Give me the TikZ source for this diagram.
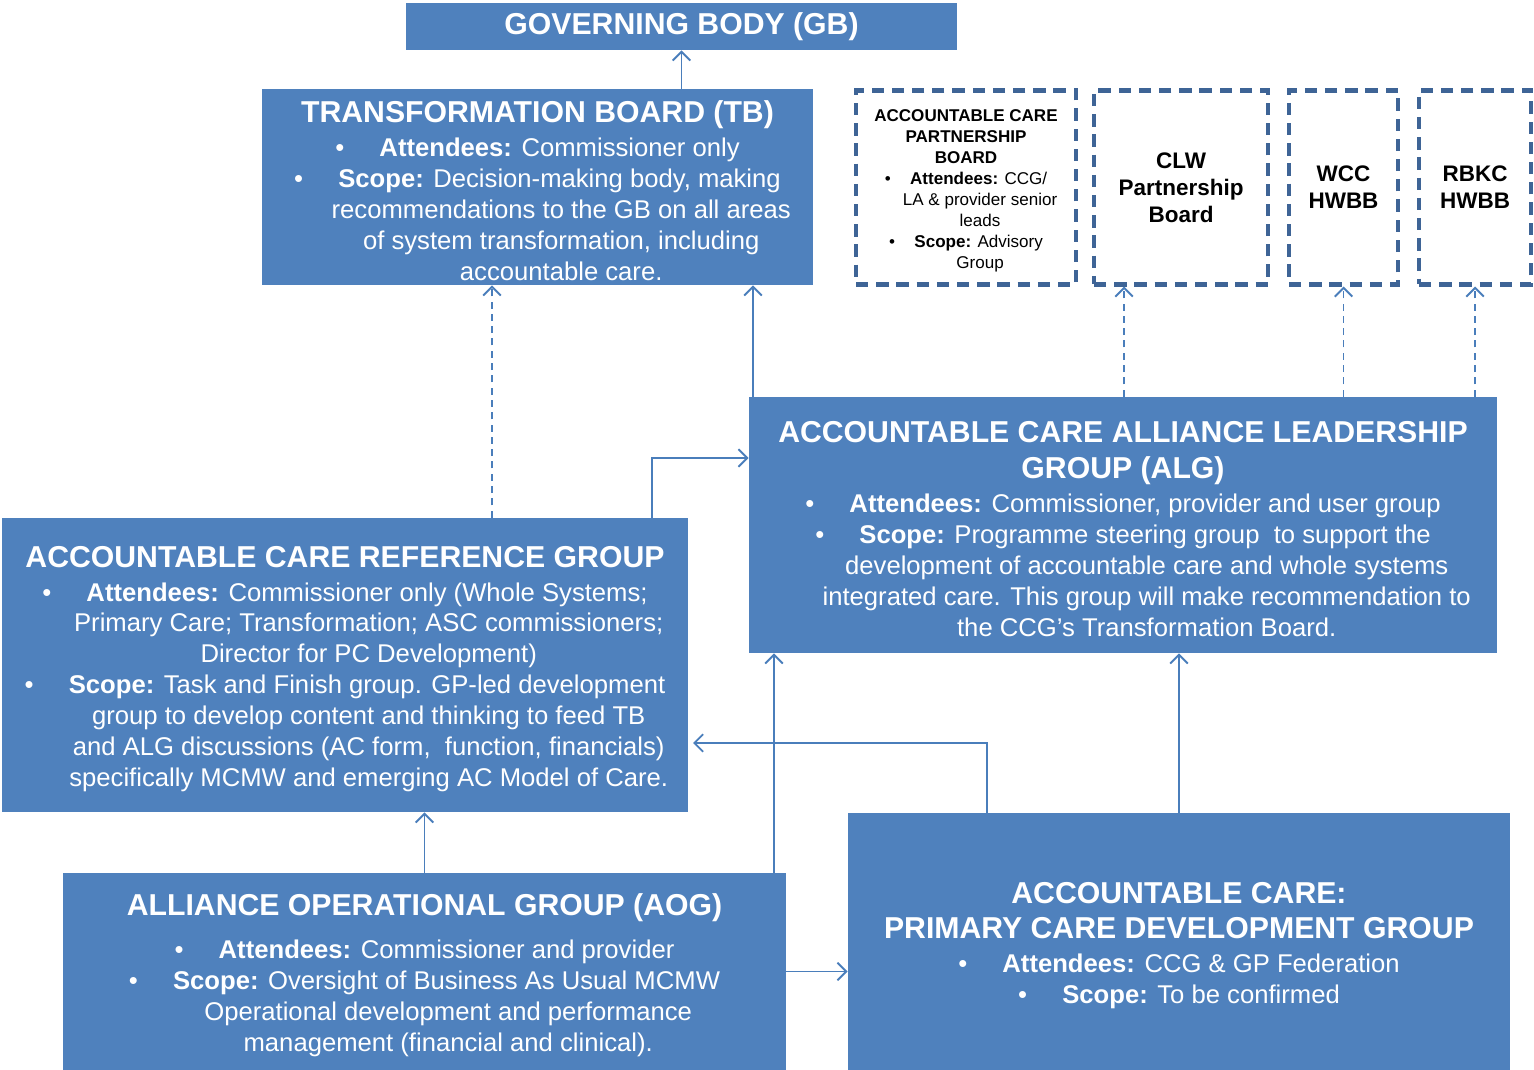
\documentclass[tikz,border=0pt]{standalone}
\usepackage{fontspec}
\setmainfont{Liberation Sans}
\usetikzlibrary{arrows.meta}
\definecolor{boxblue}{HTML}{4F81BD}
\definecolor{linkblue}{HTML}{4A7EBB}
\definecolor{dashblue}{HTML}{3E6496}
\newcommand{\ttl}[1]{{\fontsize{17.2}{20.4}\selectfont\bfseries\rule{0pt}{16.5pt}#1}}
\newcommand{\bpt}{\textbullet\hspace{20pt}}
\newcommand{\cind}{\hspace*{27pt}}
\newcommand{\sbpt}{\textbullet\hspace{11pt}}
\newcommand{\scind}{\hspace*{16pt}}
\begin{document}
\begin{tikzpicture}[x=0.02cm,y=-0.02cm,
    sz/.style 2 args={minimum width=#1*0.02cm,minimum height=#2*0.02cm},
    box/.style={fill=boxblue,text=white,align=center,inner sep=0pt,
      font=\fontsize{14.6}{17.6}\selectfont},
    dbox/.style={draw=dashblue,line width=2.3pt,dash pattern=on 7pt off 4.5pt,
      align=center,inner sep=0pt,font=\fontsize{12.8}{15.3}\selectfont\bfseries},
    arr/.style={draw=linkblue,line width=1.1pt,-{Straight Barb[length=5pt,width=10pt]}},
    darr/.style={arr,dash pattern=on 4pt off 3pt}]
\useasboundingbox (0,0) rectangle (1534,1070);
\node[box,sz={551}{47}](gb)at(681.5,26.5){{\fontsize{17.2}{20.4}\selectfont\bfseries GOVERNING BODY (GB)}};
\node[box,sz={551}{196}](tb)at(537.5,187){\ttl{TRANSFORMATION BOARD (TB)}\\[1.7pt]
  \bpt\textbf{Attendees:} Commissioner only\\
  \bpt\textbf{Scope:} Decision-making body, making\\
  \cind recommendations to the GB on all areas\\
  \cind of system transformation, including\\
  \cind accountable care.};
\node[dbox,sz={220}{194},font=\fontsize{9.7}{11.9}\selectfont](acpb)at(966,187.5){\rule{0pt}{10.5pt}\textbf{ACCOUNTABLE CARE}\\
  \textbf{PARTNERSHIP}\\
  \textbf{BOARD}\\
  \sbpt\textbf{Attendees:} CCG/\\
  \scind LA \& provider senior\\
  \scind leads\\
  \sbpt\textbf{Scope:} Advisory\\
  \scind Group};
\node[dbox,sz={174}{194}](clw)at(1181,187.5){CLW\\Partnership\\Board};
\node[dbox,sz={109}{194}](wcc)at(1343.5,187.5){WCC\\HWBB};
\node[dbox,sz={112}{194}](rbkc)at(1475,187.5){RBKC\\HWBB};
\node[box,sz={748}{256}](alg)at(1123,525){\ttl{ACCOUNTABLE CARE ALLIANCE LEADERSHIP}\\[2.8pt]
  \ttl{GROUP (ALG)}\\[1.7pt]
  \bpt\textbf{Attendees:} Commissioner, provider and user group\\
  \bpt\textbf{Scope:} Programme steering group\ \ to support the\\
  \cind development of accountable care and whole systems\\
  \cind integrated care. This group will make recommendation to\\
  \cind the CCG’s Transformation Board.};
\node[box,sz={686}{294}](acrg)at(345,665){\ttl{ACCOUNTABLE CARE REFERENCE GROUP}\\[1.7pt]
  \bpt\textbf{Attendees:} Commissioner only (Whole Systems;\\
  \cind Primary Care; Transformation; ASC commissioners;\\
  \cind Director for PC Development)\\
  \bpt\textbf{Scope:} Task and Finish group. GP-led development\\
  \cind group to develop content and thinking to feed TB\\
  \cind and ALG discussions (AC form,\ \ function, financials)\\
  \cind specifically MCMW and emerging AC Model of Care.};
\node[box,sz={723}{197}](aog)at(424.5,971.5){\ttl{ALLIANCE OPERATIONAL GROUP (AOG)}\\[7pt]
  \bpt\textbf{Attendees:} Commissioner and provider\\
  \bpt\textbf{Scope:} Oversight of Business As Usual MCMW\\
  \cind Operational development and performance\\
  \cind management (financial and clinical).};
\node[box,sz={662}{257}](pcdg)at(1179,941.5){\ttl{ACCOUNTABLE CARE:}\\[2.8pt]
  \ttl{PRIMARY CARE DEVELOPMENT GROUP}\\[1.7pt]
  \bpt\textbf{Attendees:} CCG \& GP Federation\\
  \bpt\textbf{Scope:} To be confirmed};
\coordinate (tip) at (693,743);
\draw[arr](gb.south |- tb.north)--(gb.south);
\draw[darr](492,0 |- acrg.north)--(492,0 |- tb.south);
\draw[arr](753,0 |- alg.north)--(753,0 |- tb.south);
\draw[arr](652,0 |- acrg.north)|-(alg.west |- 0,458);
\draw[darr](1124,0 |- alg.north)--(1124,0 |- clw.south);
\draw[darr](wcc.south |- alg.north)--(wcc.south);
\draw[darr](rbkc.south |- alg.north)--(rbkc.south);
\draw[arr](aog.north)--(aog.north |- acrg.south);
\draw[arr](774,0 |- aog.north)--(774,0 |- alg.south);
\draw[arr](987,0 |- pcdg.north)|-(tip);
\draw[arr](pcdg.north)--(pcdg.north |- alg.south);
\draw[arr](aog.east)--(pcdg.west |- aog.east);
\end{tikzpicture}
\end{document}
